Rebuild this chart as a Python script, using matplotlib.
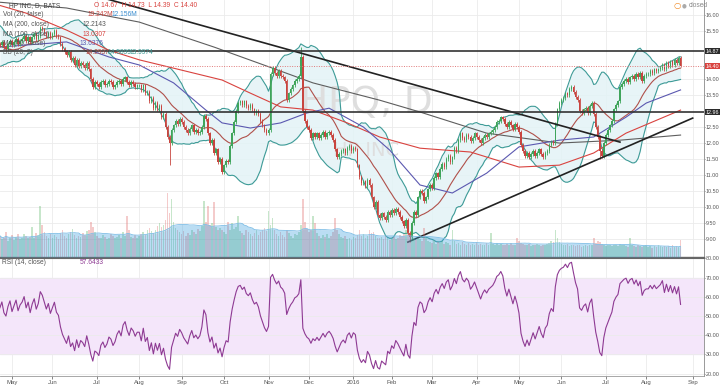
import numpy as np
import pandas as pd
import matplotlib
matplotlib.use("Agg")
import matplotlib.pyplot as plt
import matplotlib.transforms as mtransforms

FONT = ['Liberation Sans Narrow', 'Liberation Sans', 'DejaVu Sans']
plt.rcParams['font.family'] = FONT

# ---------------- data ----------------
first_day = -6                      # trading-day index of first visible candle (May 1 2015 = 0)
pre_closes = [15.55, 15.6, 15.45, 15.5, 15.3, 15.35, 15.2, 15.0, 14.85, 14.7,
              14.6, 14.75, 14.55, 14.7, 14.85, 14.9, 14.8, 15.0, 14.95]
closes = [
    15.05, 15.15, 15.0, 14.95, 15.1, 15.2, 15.05, 15.15, 15.25, 15.1, 15.2,
    15.25, 15.35, 15.2, 15.3, 15.15, 15.3, 15.4, 15.25, 15.35,
    15.6, 15.55, 15.45,
    15.35, 15.45, 15.3, 15.4, 15.5, 15.35, 15.3,
    15.1, 14.95, 14.85,
    14.75, 14.85, 14.6, 14.65,
    14.45, 14.6, 14.4, 14.5, 14.45, 14.35, 14.5, 14.3,
    14.0, 13.75, 13.9,
    13.85, 13.75, 13.9, 13.95, 13.8, 13.85, 13.95, 13.9, 13.75, 13.8, 13.9, 13.95,
    13.85, 14.0, 14.05, 13.9, 13.8, 13.9, 13.85, 13.75, 13.8,
    13.8, 13.65, 13.8, 13.55,
    13.6, 13.3, 13.4, 13.1, 13.25, 13.05,
    13.15, 12.8, 12.9, 12.5,
    12.2, 12.0, 12.4,
    12.55, 12.7, 12.6, 12.75, 12.65, 12.5,
    12.4, 12.3, 12.45, 12.55, 12.35, 12.4, 12.3, 12.35, 12.5,
    12.85, 12.75,
    12.3, 12.0, 12.1, 11.7, 11.8, 11.4, 11.5,
    11.1, 11.3, 11.45,
    11.4, 11.9, 12.3, 12.65,
    13.0, 13.25, 13.3,
    13.2, 13.3, 13.15, 13.1, 13.2, 13.05, 12.95, 13.0, 12.9,
    12.7, 12.55, 12.4, 12.3,
    12.4, 14.15,
    14.35, 14.2, 14.1, 14.25, 14.1,
    14.05, 13.95, 13.35,
    13.55, 13.7, 13.8, 13.95, 14.0,
    14.1, 14.7,
    13.0, 12.7, 12.5,
    12.4, 12.15, 12.3,
    12.2, 12.3, 12.15, 12.25, 12.35, 12.2, 12.3, 12.35, 12.25, 12.1,
    11.8, 11.55, 11.65,
    11.75, 11.8, 11.7, 11.85, 11.9, 11.75, 11.85, 11.8,
    11.3, 10.95,
    10.75, 10.8, 10.65, 10.85, 10.7,
    10.3, 10.0, 10.15, 9.75,
    9.65, 9.8, 9.7, 9.6, 9.85, 9.75, 9.9, 9.8, 9.95,
    9.85, 9.7,
    9.55, 9.4, 9.6, 9.2, 9.05,
    9.5, 9.85, 9.75, 10.3, 10.5,
    10.45, 10.2, 10.3, 10.55,
    10.7, 10.6, 10.9, 11.05, 10.95, 11.2,
    11.35, 11.25, 11.5, 11.6, 11.4, 11.55,
    11.85, 11.75, 12.1, 12.3, 12.15,
    12.1, 12.25, 12.2, 12.05, 12.15, 12.3, 12.2, 12.1, 12.0, 12.15, 12.25, 12.2, 12.3, 12.35, 12.4,
    12.5, 12.65, 12.7, 12.8, 12.75,
    12.6, 12.5, 12.65, 12.55, 12.45, 12.6, 12.5,
    12.35, 11.95, 11.75,
    11.6, 11.7, 11.55, 11.65, 11.75, 11.6, 11.7, 11.8, 11.65, 11.55, 11.7, 11.75,
    11.95, 12.05, 12.0,
    12.6, 13.05, 13.25,
    13.35, 13.4, 13.55, 13.5, 13.7, 13.75, 13.6,
    13.45, 13.35,
    13.0, 12.95, 13.05, 13.1, 12.95, 13.15,
    13.25, 12.9,
    12.5, 12.2, 11.75, 11.6,
    12.0, 12.25, 12.4, 12.55, 12.7,
    13.05, 13.2, 13.3,
    13.75,
    13.85, 13.95, 14.0, 13.9, 14.05, 14.1, 14.0, 14.15, 14.05, 14.2, 13.95, 14.1, 14.15,
    14.15, 14.25, 14.2, 14.3, 14.25, 14.3,
    14.35, 14.45, 14.3, 14.5, 14.4, 14.55, 14.45, 14.6, 14.5, 14.67, 14.40,
]
first_open = 15.1
wick = 0.06
special_high = {143: 15.0, 331: 14.73}
special_low = {78: 11.3, 197: 8.9, 291: 11.5, 331: 14.39}

volumes = [  # millions
    24, 20, 22, 28, 18, 21, 25, 19, 23, 26,
    20, 22, 26, 24, 21, 23, 34, 22, 27, 25,
    58, 36, 28, 24, 22, 26, 21, 25, 23, 20,
    27, 30, 24, 22, 26, 28, 32, 25, 21, 24,
    23, 27, 25, 29, 31, 40, 34, 28, 24, 22,
    21, 25, 23, 20, 22, 26, 24, 21, 23, 25,
    22, 28, 24, 46, 30, 23, 21, 25, 22, 24,
    26, 28, 25, 30, 33, 29, 27, 31, 35, 38,
    34, 36, 42, 72, 50, 66, 40, 33, 30, 28,
    26, 29, 24, 27, 25, 30, 28, 26, 32, 29,
    35, 63, 40, 58, 36, 38, 62, 34, 30, 33,
    31, 28, 26, 40, 30, 38, 32, 34, 46, 29,
    27, 25, 30, 28, 26, 24, 27, 31, 25, 28,
    30, 33, 29, 52, 36, 44, 30, 26, 24, 28,
    25, 23, 30, 27, 24, 22, 26, 25, 28, 36,
    65, 40, 32, 28, 30, 46, 38, 27, 24, 22,
    25, 23, 26, 21, 24, 28, 44, 30, 26, 23,
    21, 24, 20, 22, 19, 23, 21, 25, 30, 24,
    26, 22, 24, 30, 27, 28, 24, 22, 21, 23,
    20, 24, 22, 19, 21, 23, 20, 22, 25, 24,
    26, 30, 28, 27, 24, 21, 19, 22, 20, 18,
    33, 22, 18, 17, 16, 19, 15, 17, 16, 18,
    15, 17, 16, 14, 30, 18, 15, 16, 14, 17,
    15, 13, 16, 14, 15, 13, 17, 14, 15, 13,
    14, 16, 13, 27, 15, 14, 16, 13, 15, 14,
    13, 15, 14, 16, 13, 14, 22, 18, 16, 15,
    14, 13, 15, 12, 14, 13, 15, 14, 12, 13,
    14, 15, 16, 18, 17, 30, 22, 17, 15, 14,
    13, 15, 12, 14, 13, 12, 14, 13, 11, 12,
    13, 12, 14, 13, 21, 16, 18, 17, 15, 13,
    12, 14, 13, 12, 14, 13, 12, 15, 14, 13,
    12, 11, 21, 13, 12, 11, 13, 12, 11, 12,
    13, 11, 12, 10, 12, 11, 13, 12, 11, 12,
    11, 12, 10, 13, 11, 12, 11, 19.24,
]

# moving averages (day index, value)
ma200_idx = [-6, 27, 63, 100, 129, 149, 182, 202, 235, 271, 301, 331]
ma200_val = [16.40, 16.22, 15.78, 15.0, 14.34, 13.88, 13.34, 12.97, 12.31, 12.0, 12.09, 12.25]
ma100_idx = [-6, 7, 27, 48, 63, 80, 104, 118, 133, 149, 166, 182, 202, 227, 251, 271, 288, 304, 331]
ma100_val = [16.3, 16.06, 15.53, 14.9, 14.6, 14.34, 13.97, 13.56, 13.13, 13.03, 12.63, 12.19,
             11.84, 11.72, 11.25, 11.31, 11.69, 12.31, 13.03]
ma50_idx = [-6, 27, 48, 63, 80, 96, 104, 118, 133, 146, 157, 174, 187, 202, 218, 235, 251, 271,
            288, 304, 314, 331]
ma50_val = [15.0, 15.16, 14.69, 14.44, 13.88, 13.03, 12.63, 12.47, 12.63, 12.94, 13.09, 12.5,
            11.78, 10.69, 10.44, 11.06, 11.88, 12.09, 12.19, 12.81, 13.25, 13.66]

trend_down_idx = [30, 301]
trend_down_val = [16.80, 12.03]
trend_up_idx = [196, 337]
trend_up_val = [8.906, 12.78]
level_lines = [14.87, 12.96]
last_price = 14.40

month_idx = [0, 20, 42, 63, 84, 105, 127, 147, 169, 188, 208, 230, 251, 272, 294, 314, 337]
month_labels = ['May', 'Jun', 'Jul', 'Aug', 'Sep', 'Oct', 'Nov', 'Dec', '2016',
                'Feb', 'Mar', 'Apr', 'May', 'Jun', 'Jul', 'Aug', 'Sep']
price_ticks = [9.0, 9.5, 10.0, 10.5, 11.0, 11.5, 12.0, 12.5, 13.5, 14.0, 15.5, 16.0]
rsi_ticks = [20, 30, 40, 50, 60, 70, 80]

# ---------------- derived ----------------
n = len(closes)
x = np.arange(n) + first_day
c = np.array(closes)
o = np.array([first_open] + closes[:-1])
hi = np.maximum(o, c) + wick
lo = np.minimum(o, c) - wick
for k, v in special_high.items():
    hi[k - first_day] = v
for k, v in special_low.items():
    lo[k - first_day] = v
up = c >= o

allc = pd.Series(pre_closes + closes)
mid = allc.rolling(20).mean()
sd = allc.rolling(20).std(ddof=0)
npre = len(pre_closes)
bb_mid = mid.values[npre:]
bb_up = (mid + 2 * sd).values[npre:]
bb_lo = (mid - 2 * sd).values[npre:]

delta = allc.diff()
gain = delta.clip(lower=0).ewm(alpha=1 / 14, adjust=False).mean()
loss = (-delta.clip(upper=0)).ewm(alpha=1 / 14, adjust=False).mean()
rsi = (100 - 100 / (1 + gain / loss)).values[npre:]

vol = np.array(volumes)
vma = pd.Series(vol).rolling(20, min_periods=1).mean().values

# ---------------- figure ----------------
W, H = 720, 387
FS = 4.8      # header text
AFS = 3.9     # axis labels
RIGHT = 704
fig = plt.figure(figsize=(7.2, 3.87), dpi=100)
fig.patch.set_facecolor('white')
ax = fig.add_axes([0, 1 - 257 / H, RIGHT / W, 257 / H])
axr = fig.add_axes([0, 1 - 376 / H, RIGHT / W, (376 - 258) / H], sharex=ax)

# volume axis (created first so the price axis keeps its right-side ticks)
axv = ax.twinx()
axv.set_ylim(0, 290)
axv.set_yticks([])
for s in axv.spines.values():
    s.set_visible(False)

xmin, xmax = -5.94, 342.6
ax.set_xlim(xmin, xmax)
ax.set_ylim(8.44, 16.47)
axr.set_ylim(18.7, 80.26)

grid_c = '#ebebeb'
txt_c = '#555555'
for a in (ax, axr):
    a.set_facecolor('white')
    for m in month_idx:
        a.axvline(m, color=grid_c, lw=0.6, zorder=0)
    a.yaxis.tick_right()
    a.tick_params(axis='y', left=False, labelleft=False, right=True, labelright=True,
                  labelsize=AFS, colors=txt_c, length=1.0, width=0.5, pad=0.3)
    a.spines['left'].set_visible(False)
    a.spines['top'].set_visible(False)
    a.spines['right'].set_color('#999999')
    a.spines['right'].set_linewidth(0.7)
ax.spines['bottom'].set_color('#666666')
ax.spines['bottom'].set_linewidth(1.0)
axr.spines['top'].set_visible(True)
axr.spines['top'].set_color('#666666')
axr.spines['bottom'].set_color('#999999')
axr.spines['bottom'].set_linewidth(0.6)

for p in price_ticks:
    ax.axhline(p, color=grid_c, lw=0.6, zorder=0)
ax.set_yticks(price_ticks)
ax.set_yticklabels([f'{p:.2f}' for p in price_ticks])
ax.tick_params(axis='x', length=0, labelbottom=False)

# watermark
ax.text(0.52, 0.60, 'HPQ, D', transform=ax.transAxes, fontsize=27, color='#dedede',
        ha='center', va='center', zorder=0.8, family='DejaVu Sans')
ax.text(0.52, 0.415, 'HP INC', transform=ax.transAxes, fontsize=14, color='#dedede',
        ha='center', va='center', zorder=0.8, family='DejaVu Sans')

# Bollinger
ax.fill_between(x, bb_lo, bb_up, color='#e3f3f6', alpha=0.85, zorder=0.5, lw=0)
ax.plot(x, bb_up, color='#3e9b97', lw=0.8, zorder=2)
ax.plot(x, bb_lo, color='#3e9b97', lw=0.8, zorder=2)
ax.plot(x, bb_mid, color='#b0504a', lw=0.8, zorder=2)

# moving averages
ax.plot(ma200_idx, ma200_val, color='#5e5e5e', lw=0.8, zorder=2)
ax.plot(ma100_idx, ma100_val, color='#d9433f', lw=0.8, zorder=2)
ax.plot(ma50_idx, ma50_val, color='#5b58b0', lw=0.8, zorder=2)

# volume bars
vcol = np.where(up, '#5fb86a', '#e06b6b')
axv.bar(x, vol, width=0.8, color=vcol, alpha=0.35, lw=0, zorder=1)
axv.fill_between(x, 0, vma, color='#3a9ede', alpha=0.35, lw=0, zorder=2)
axv.plot(x, vma, color='#7dbde6', lw=0.6, zorder=2)
axv.set_xlim(xmin, xmax)

# candles
ccol = np.where(up, '#3fa45b', '#c8453f')
ax.vlines(x, lo, hi, colors=ccol, lw=0.6, zorder=3)
body = np.maximum(np.abs(c - o), 0.02)
ax.bar(x, body, bottom=np.minimum(o, c), width=0.72, color=ccol, lw=0, zorder=3.1)

# drawings
ax.plot(trend_down_idx, trend_down_val, color='#222222', lw=1.2, zorder=4)
ax.plot(trend_up_idx, trend_up_val, color='#222222', lw=1.2, zorder=4)
for lv in level_lines:
    ax.axhline(lv, color='#333333', lw=1.2, zorder=4)
ax.axhline(last_price, color='#e07a7a', lw=0.7, ls=(0, (1, 1.5)), zorder=4)

# right-axis price boxes
trans = mtransforms.blended_transform_factory(fig.transFigure, ax.transData)
for lv, bg in [(14.87, '#2b2b2b'), (12.96, '#2b2b2b'), (last_price, '#d9433f')]:
    ax.text(719 / W, lv, f'{lv:.2f}', transform=trans, fontsize=AFS, color='white',
            ha='right', va='center', zorder=6, clip_on=False,
            bbox=dict(boxstyle='square,pad=0.12', fc=bg, ec='none'))

# RSI
axr.axhspan(30, 70, color='#f4e6fa', zorder=0)
for r in rsi_ticks:
    axr.axhline(r, color=grid_c, lw=0.6, zorder=0.5)
axr.plot(x, rsi, color='#8e3a93', lw=0.8, zorder=3)
axr.set_yticks(rsi_ticks)
axr.set_yticklabels([f'{r:.2f}' for r in rsi_ticks])
axr.set_xticks(month_idx)
axr.set_xticklabels(month_labels)
axr.tick_params(axis='x', labelsize=4.3, colors=txt_c, length=2, width=0.5, pad=1.2)

# header texts
def ft(px, py, s, **kw):
    fig.text(px / W, 1 - py / H, s, fontsize=FS, va='center', ha='left', **kw)

ft(9, 5.5, 'HP INC, D, BATS', color='#444444')
ft(94, 5.5, 'O 14.67  H 14.73  L 14.39  C 14.40', color='#d9433f')
ft(3, 15, 'Vol (20, false)', color='#555555')
ft(88, 15, '19.242M', color='#c8453f')
ft(112, 15, '12.156M', color='#3a8ed0')
ft(3, 24.5, 'MA (200, close)', color='#555555')
ft(83, 24.5, '12.2143', color='#555555')
ft(3, 34, 'MA (100, close)', color='#555555')
ft(83, 34, '13.0307', color='#d9433f')
ft(3, 43.5, 'MA (50, close)', color='#555555')
ft(80, 43.5, '13.6376', color='#5b58b0')
ft(3, 53, 'BB (20, 2)', color='#555555')
ft(86, 53, '14.2937', color='#b0504a')
ft(108, 53, '14.5899', color='#3e9b97')
ft(130, 53, '13.9974', color='#3e9b97')
ft(2, 263, 'RSI (14, close)', color='#555555')
ft(80, 263, '57.6433', color='#8e3a93')
ft(689, 5.5, 'closed', color='#888888')
fig.text(677 / W, 1 - 5.5 / H, '\u25cb', fontsize=6, color='#f08a24', va='center', ha='center',
         family='DejaVu Sans')
fig.text(684 / W, 1 - 5.5 / H, '\u25cf', fontsize=4, color='#aaaaaa', va='center', ha='center',
         family='DejaVu Sans')

fig.savefig('out.png', dpi=100)
